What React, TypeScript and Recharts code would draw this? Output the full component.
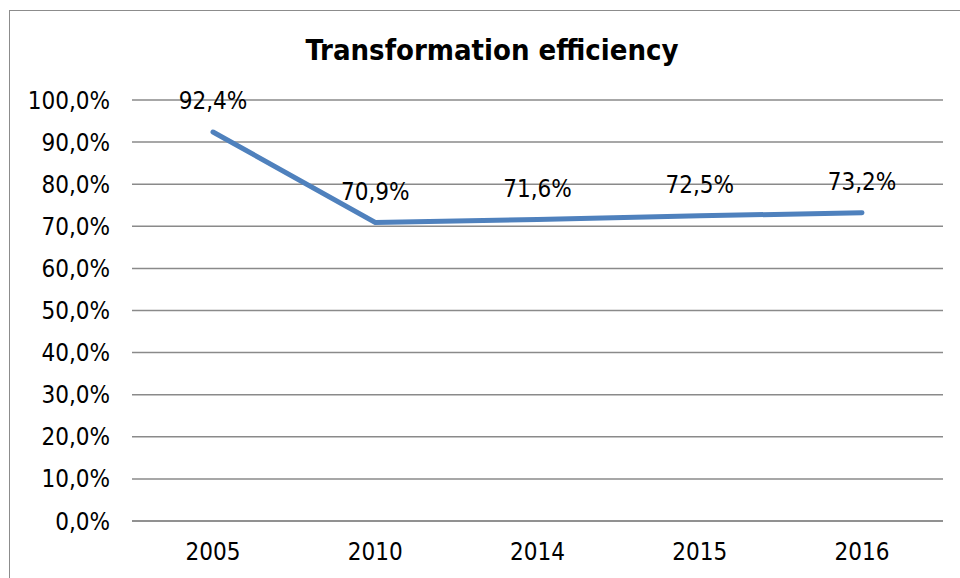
import { LineChart, Line, XAxis, YAxis, CartesianGrid, LabelList } from "recharts";

const years = ["2005", "2010", "2014", "2015", "2016"];
const efficiency = [92.4, 70.9, 71.6, 72.5, 73.2];
const yTicks = [0, 10, 20, 30, 40, 50, 60, 70, 80, 90, 100];

const data = years.map((year, i) => ({ year, value: efficiency[i] }));

const pct = (v: number) => v.toFixed(1).replace(".", ",") + "%";
const font = "'DejaVu Sans Condensed', 'DejaVu Sans', sans-serif";

export default function App() {
  return (
    <div style={{ position: "fixed", inset: 0, overflow: "hidden", background: "#fff" }}>
      <div
        style={{
          position: "absolute",
          left: 9,
          top: 10,
          width: 970,
          height: 600,
          border: "1.5px solid #8c8c8c",
        }}
      />
      <div
        style={{
          position: "absolute",
          left: 0,
          top: 32,
          width: 984,
          textAlign: "center",
          fontFamily: font,
          fontWeight: 700,
          fontSize: 29,
          lineHeight: "36px",
          color: "#000",
        }}
      >
        Transformation efficiency
      </div>
      <div style={{ position: "absolute", left: 0, top: 0 }}>
        <LineChart
          width={960}
          height={578}
          data={data}
          margin={{ top: 100, right: 17, bottom: 17, left: 0 }}
        >
          <CartesianGrid vertical={false} stroke="#8a8a8a" strokeWidth={1.5} />
          <XAxis
            dataKey="year"
            padding={{ left: 81, right: 81 }}
            axisLine={{ stroke: "#8a8a8a", strokeWidth: 1.5 }}
            tickLine={false}
            height={40}
            tick={{ fill: "#000", fontSize: 24, fontFamily: font }}
            tickMargin={16}
          />
          <YAxis
            domain={[0, 100]}
            ticks={yTicks}
            interval={0}
            width={132}
            axisLine={false}
            tickLine={false}
            tickFormatter={pct}
            tickMargin={16}
            tick={{ fill: "#000", fontSize: 24, fontFamily: font }}
          />
          <Line
            type="linear"
            dataKey="value"
            stroke="#4f81bd"
            strokeWidth={5}
            strokeLinecap="round"
            dot={false}
            isAnimationActive={false}
          >
            <LabelList
              dataKey="value"
              position="top"
              offset={23}
              formatter={(v: any) => pct(Number(v))}
              style={{ fill: "#000", fontSize: 24, fontFamily: font }}
            />
          </Line>
        </LineChart>
      </div>
    </div>
  );
}
